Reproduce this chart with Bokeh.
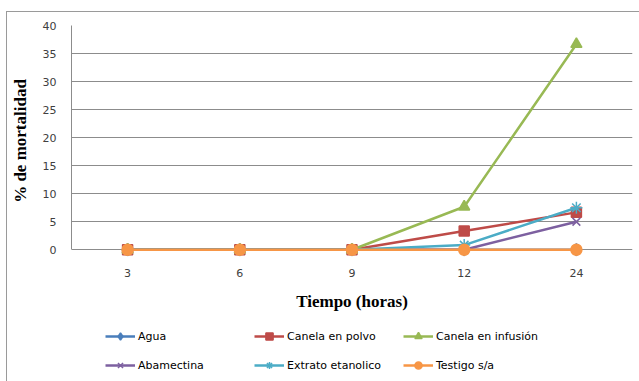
from bokeh.plotting import figure
from bokeh.layouts import column
from bokeh.models import Legend, LegendItem, FactorRange, Range1d, FixedTicker
from bokeh.embed import file_html
from bokeh.resources import INLINE

hours = ["3", "6", "9", "12", "24"]
agua = [0, 0, 0, 0, 0]
canela_polvo = [0, 0, 0, 3.33, 6.67]
canela_infusion = [0, 0, 0, 7.67, 36.67]
abamectina = [0, 0, 0, 0, 5.0]
extrato = [0, 0, 0, 0.83, 7.5]
testigo = [0, 0, 0, 0, 0]
y_ticks = [0, 5, 10, 15, 20, 25, 30, 35, 40]

GRID = "#8c8c8c"
TXT = "#404040"

p = figure(width=632, height=306, x_range=FactorRange(*hours, range_padding=0),
           y_range=Range1d(-1.2, 40), output_backend="svg", toolbar_location=None,
           min_border_left=64, min_border_top=13, min_border_right=7, min_border_bottom=62)
p.outline_line_color = None
p.xgrid.grid_line_color = None
p.ygrid.grid_line_color = GRID
p.ygrid.grid_line_width = 1
p.yaxis.ticker = FixedTicker(ticks=y_ticks)
p.yaxis.bounds = (0, 40)
for ax in (p.xaxis, p.yaxis):
    ax.axis_line_color = GRID
    ax.major_tick_line_color = None
    ax.minor_tick_line_color = None
    ax.major_tick_out = 0
    ax.major_label_text_font = "DejaVu Sans"
    ax.major_label_text_font_size = "11px"
    ax.major_label_text_color = TXT
    ax.axis_label_text_font = "Liberation Serif"
    ax.axis_label_text_font_style = "bold"
    ax.axis_label_text_font_size = "17px"
    ax.axis_label_text_color = "#000000"
p.xaxis.axis_line_color = None
p.xaxis.major_label_standoff = 12
p.yaxis.major_label_standoff = 15
p.xaxis.axis_label = "Tiempo (horas)"
p.yaxis.axis_label = "% de mortalidad"
p.xaxis.axis_label_standoff = 12
p.yaxis.axis_label_standoff = 10

series = [
    ("Agua", agua, "#4A7EBB", "diamond", 12),
    ("Canela en polvo", canela_polvo, "#BE4B48", "square", 10),
    ("Canela en infusión", canela_infusion, "#98B954", "triangle", 11),
    ("Abamectina", abamectina, "#7D60A0", "x", 11),
    ("Extrato etanolico", extrato, "#4BACC6", "asterisk", 12),
    ("Testigo s/a", testigo, "#F79646", "circle", 11),
]

# legend strip: same series, plotted against a range that keeps them off-screen
q = figure(width=632, height=63, x_range=FactorRange(*hours, range_padding=0),
           y_range=Range1d(1000, 1001), output_backend="svg", toolbar_location=None,
           min_border_left=0, min_border_right=0, min_border_top=0, min_border_bottom=0)
q.axis.visible = False
q.grid.visible = False
q.outline_line_color = None

items = {}
for name, vals, col, mk, sz in series:
    p.line(hours, vals, line_color=col, line_width=2.5)
    p.scatter(hours, vals, marker=mk, size=sz, fill_color=col, line_color=col, line_width=1.5)
    lq = q.line(hours, vals, line_color=col, line_width=2.5)
    sq = q.scatter(hours, vals, marker=mk, size=sz, fill_color=col, line_color=col, line_width=1.5)
    items[name] = LegendItem(label=name, renderers=[lq, sq])

order = ["Agua", "Abamectina", "Canela en polvo", "Extrato etanolico",
         "Canela en infusión", "Testigo s/a"]
leg = Legend(items=[items[k] for k in order], ncols=3, location=(34, 7),
             border_line_color=None,
             background_fill_color=None, glyph_width=30, glyph_height=18,
             label_height=18, label_width=105, label_standoff=3, spacing=11,
             padding=5, margin=0, label_text_font="DejaVu Sans",
             label_text_font_size="11px", label_text_color="#000000")
q.add_layout(leg, "center")

layout = column(p, q, spacing=0)
layout.styles = {"border-left": "1px solid #9a9a9a", "border-top": "1px solid #9a9a9a",
                 "margin-left": "6px", "margin-top": "11px"}

open("out.html", "w").write(file_html(layout, INLINE))
